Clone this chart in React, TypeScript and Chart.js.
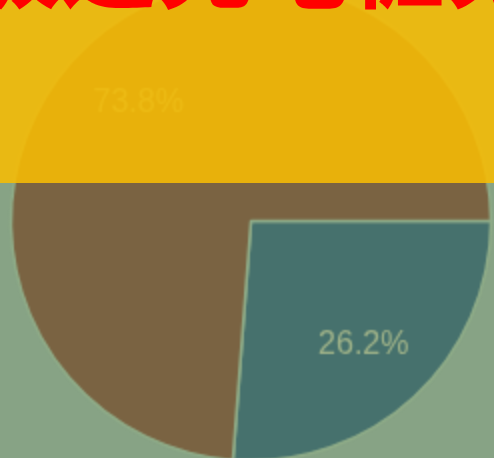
import React, { useEffect, useRef } from "react";
import { Chart, registerables } from "chart.js";

Chart.register(...registerables);

const categories: string[] = ["B", "A"];
const shares: number[] = [26.2, 73.8];
const sliceColors: string[] = ["#46716d", "#7a6342"];
const titleText = "极速充电桩分布";

const labelPlugin = {
  id: "sliceLabels",
  afterDatasetsDraw(chart: any) {
    const ctx = chart.ctx;
    const meta = chart.getDatasetMeta(0);
    const data = chart.data.datasets[0].data as number[];
    const total = data.reduce((a, b) => a + b, 0);
    ctx.save();
    ctx.font = "32px 'Liberation Sans', Arial, sans-serif";
    ctx.fillStyle = "#a0b389";
    ctx.textAlign = "center";
    ctx.textBaseline = "middle";
    meta.data.forEach((arc: any, i: number) => {
      const p = arc.getProps(["x", "y", "startAngle", "endAngle", "outerRadius"], true);
      const mid = (p.startAngle + p.endAngle) / 2;
      const r = p.outerRadius * 0.69;
      const pct = ((data[i] / total) * 100).toFixed(1) + "%";
      ctx.fillText(pct, p.x + Math.cos(mid) * r, p.y + Math.sin(mid) * r + 3);
    });
    ctx.restore();
  },
};

export default function App() {
  const ref = useRef<HTMLCanvasElement>(null);
  useEffect(() => {
    if (!ref.current) return;
    const chart = new Chart(ref.current, {
      type: "pie",
      data: {
        labels: categories,
        datasets: [
          {
            data: shares,
            backgroundColor: sliceColors,
            borderColor: "#8fac88",
            borderWidth: 3,
          },
        ],
      },
      options: {
        animation: false,
        responsive: false,
        devicePixelRatio: 0.5,
        rotation: 90,
        radius: 240,
        layout: { padding: 0 },
        plugins: {
          legend: { display: false },
          tooltip: { enabled: false },
          title: { display: false },
        },
      },
      plugins: [labelPlugin],
    });
    return () => chart.destroy();
  }, []);

  return (
    <div
      style={{
        position: "fixed",
        left: 0,
        top: 0,
        width: 494,
        height: 458,
        overflow: "hidden",
        background: "#87a385",
      }}
    >
      <canvas
        ref={ref}
        width={490}
        height={490}
        style={{ position: "absolute", left: 6, top: -24, width: 490, height: 490 }}
      />
      <div
        style={{
          position: "absolute",
          left: 0,
          top: 0,
          width: 494,
          height: 183,
          background: "rgba(247,188,3,0.88)",
        }}
      />
      <div
        style={{
          position: "absolute",
          left: -35,
          top: -89,
          whiteSpace: "nowrap",
          fontFamily: "'Noto Sans CJK SC', sans-serif",
          fontWeight: 700,
          fontSize: 96,
          lineHeight: "96px",
          color: "#ff0000",
        }}
      >
        {titleText}
      </div>
    </div>
  );
}
